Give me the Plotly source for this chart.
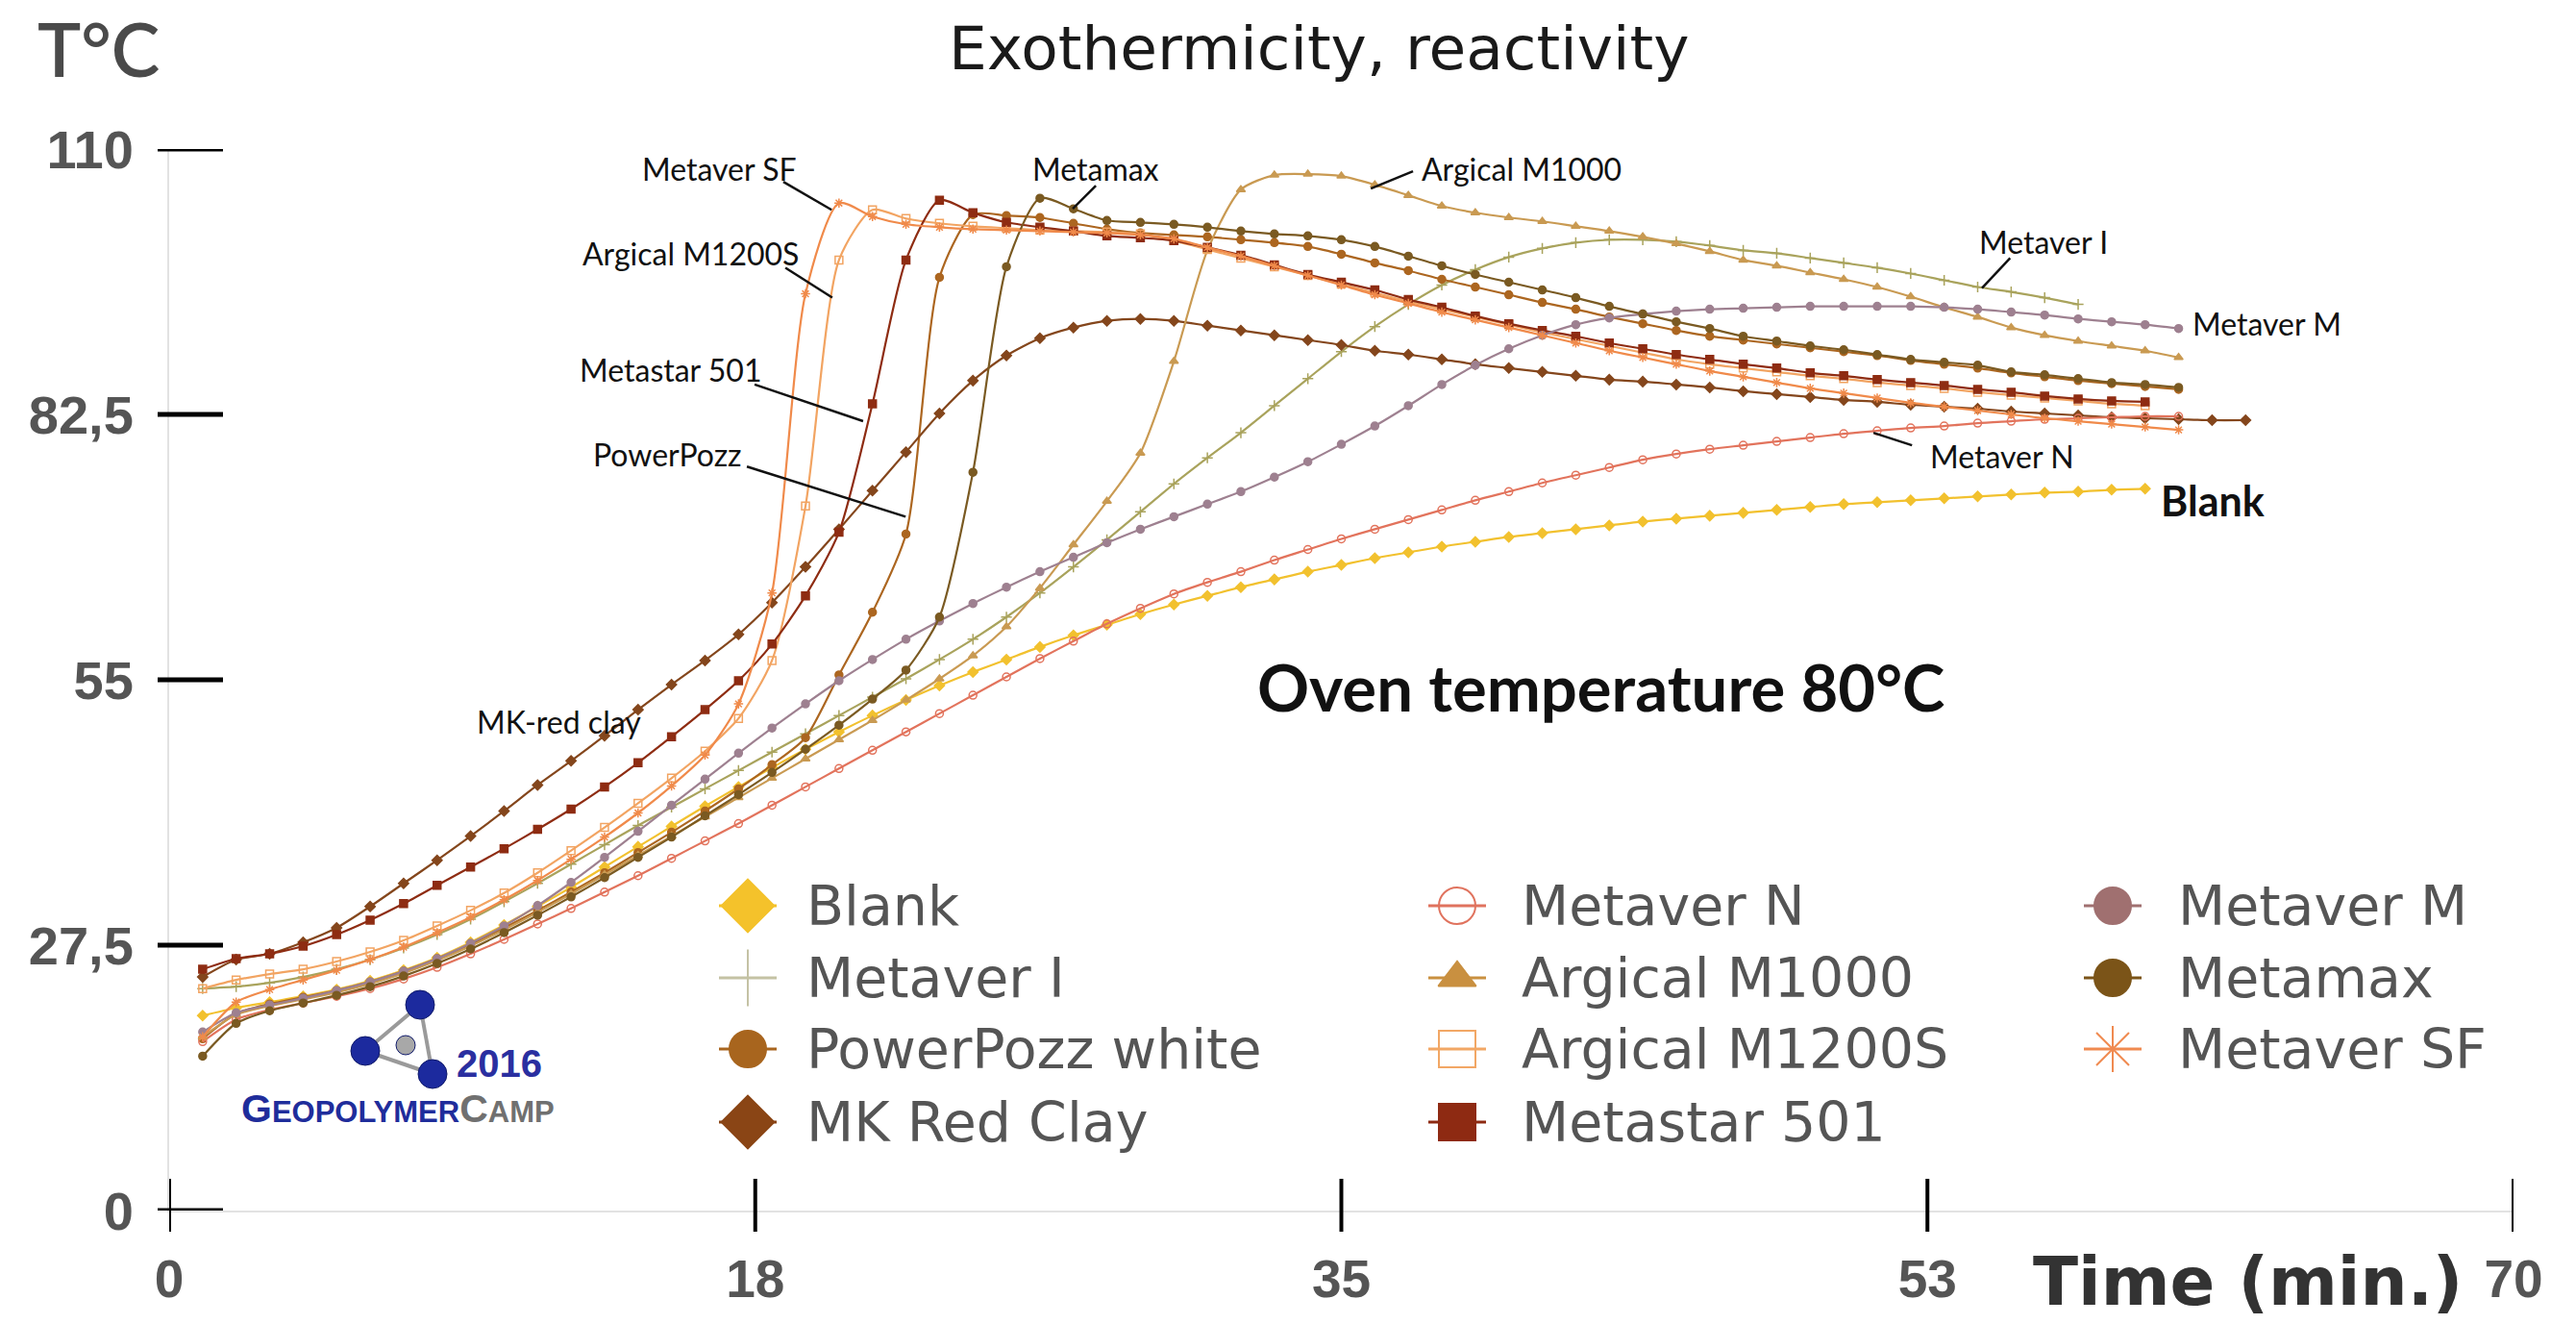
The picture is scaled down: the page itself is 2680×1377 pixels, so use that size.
import plotly.graph_objects as go

W, H = 2680, 1377

# ---------------- data ----------------
minutes = [1, 2, 3, 4, 5, 6, 7, 8, 9, 10, 11, 12, 13, 14, 15, 16, 17, 18, 19, 20,
           21, 22, 23, 24, 25, 26, 27, 28, 29, 30, 31, 32, 33, 34, 35, 36, 37, 38, 39, 40,
           41, 42, 43, 44, 45, 46, 47, 48, 49, 50, 51, 52, 53, 54, 55, 56, 57, 58, 59, 60,
           61, 62]

blank = [20.2, 21.0, 21.6, 22.2, 22.9, 23.8, 24.9, 26.2, 27.8, 29.6, 31.5, 33.5, 35.6, 37.7, 39.8,
         41.9, 43.9, 45.9, 47.8, 49.6, 51.3, 52.9, 54.4, 55.8, 57.1, 58.4, 59.6, 60.7, 61.8, 62.8,
         63.7, 64.6, 65.4, 66.2, 66.9, 67.6, 68.2, 68.8, 69.3, 69.8, 70.2, 70.6, 71.0, 71.4, 71.7,
         72.0, 72.3, 72.6, 72.9, 73.2, 73.4, 73.6, 73.8, 74.0, 74.2, 74.4, 74.5, 74.7, 74.8]

metaver_n = [17.5, 19.8, 20.8, 21.5, 22.2, 23.0, 24.0, 25.2, 26.6, 28.1, 29.7, 31.3, 33.0, 34.7, 36.5,
             38.3, 40.1, 42.0, 43.9, 45.8, 47.7, 49.6, 51.5, 53.4, 55.3, 57.2, 59.0, 60.8, 62.4, 63.9,
             65.1, 66.2, 67.4, 68.5, 69.6, 70.6, 71.6, 72.6, 73.6, 74.5, 75.4, 76.2, 77.0, 77.8, 78.4,
             78.9, 79.3, 79.7, 80.1, 80.5, 80.8, 81.1, 81.3, 81.6, 81.8, 82.0, 82.1, 82.2, 82.3, 82.3]

metaver_m = [18.5, 20.5, 21.3, 22.0, 22.8, 23.7, 24.8, 26.1, 27.7, 29.5, 31.6, 34.0, 36.6, 39.3, 42.0,
             44.7, 47.4, 50.0, 52.5, 54.9, 57.1, 59.2, 61.1, 62.9, 64.6, 66.2, 67.7, 69.2, 70.6, 71.9,
             73.2, 74.5, 76.0, 77.6, 79.4, 81.3, 83.4, 85.6, 87.6, 89.3, 90.7, 91.8, 92.5, 92.9, 93.2,
             93.4, 93.5, 93.6, 93.7, 93.7, 93.7, 93.7, 93.6, 93.4, 93.1, 92.8, 92.4, 92.1, 91.8, 91.4]

metaver_i = [23.0, 23.2, 23.6, 24.2, 25.0, 26.0, 27.2, 28.6, 30.2, 32.0, 33.9, 35.9, 37.9, 39.9, 41.8,
             43.7, 45.6, 47.5, 49.4, 51.3, 53.2, 55.1, 57.1, 59.2, 61.5, 64.0, 66.7, 69.5, 72.4, 75.3,
             78.0, 80.6, 83.4, 86.2, 89.0, 91.6, 93.9, 95.9, 97.5, 98.8, 99.7, 100.3, 100.6, 100.6, 100.4,
             100.0, 99.5, 99.2, 98.7, 98.2, 97.7, 97.1, 96.4, 95.7, 95.2, 94.6, 93.9]

argical_m1000 = [18.0, 20.3, 21.2, 21.9, 22.6, 23.5, 24.6, 25.9, 27.4, 29.1, 30.9, 32.8, 34.8, 36.8, 38.8,
                 40.8, 42.8, 44.8, 46.8, 48.8, 50.8, 52.9, 55.1, 57.5, 60.5, 64.5, 69.0, 73.5, 78.5, 88.0,
                 99.5, 105.8, 107.3, 107.4, 107.2, 106.3, 105.2, 104.1, 103.4, 102.9, 102.5, 102.0, 101.5, 100.9, 100.2,
                 99.4, 98.5, 97.9, 97.2, 96.5, 95.7, 94.7, 93.6, 92.6, 91.5, 90.7, 90.1, 89.6, 89.1, 88.4]

powerpozz = [17.8, 20.4, 21.4, 22.1, 22.8, 23.7, 24.8, 26.1, 27.6, 29.3, 31.1, 33.0, 35.0, 37.1, 39.2,
             41.4, 43.7, 46.2, 49.0, 55.5, 62.0, 70.1, 96.7, 103.2, 103.1, 102.9, 102.3, 101.7, 101.3, 101.1,
             100.9, 100.6, 100.3, 99.9, 99.1, 98.2, 97.4, 96.5, 95.7, 94.9, 94.1, 93.4, 92.6, 91.9, 91.2,
             90.6, 90.2, 89.8, 89.4, 89.0, 88.6, 88.1, 87.7, 87.3, 86.8, 86.4, 86.0, 85.7, 85.4, 85.1]

metamax = [16.0, 19.4, 20.7, 21.5, 22.3, 23.2, 24.3, 25.6, 27.1, 28.8, 30.6, 32.5, 34.5, 36.6, 38.7,
           40.9, 43.1, 45.4, 47.8, 50.3, 53.0, 56.0, 61.5, 76.5, 97.8, 104.9, 103.8, 102.6, 102.4, 102.2,
           101.9, 101.5, 101.2, 101.0, 100.6, 99.9, 98.9, 97.9, 97.0, 96.2, 95.4, 94.6, 93.7, 92.9, 92.1,
           91.4, 90.6, 90.1, 89.6, 89.2, 88.7, 88.2, 87.9, 87.6, 86.9, 86.6, 86.2, 85.8, 85.6, 85.3]

mk_red_clay = [24.2, 26.0, 26.6, 27.8, 29.3, 31.5, 33.9, 36.3, 38.8, 41.4, 44.1, 46.6, 49.2, 51.9, 54.5,
               57.0, 59.7, 63.0, 66.7, 70.6, 74.6, 78.6, 82.6, 86.0, 88.6, 90.4, 91.5, 92.2, 92.4, 92.2,
               91.7, 91.2, 90.7, 90.2, 89.7, 89.1, 88.7, 88.2, 87.7, 87.3, 86.9, 86.5, 86.1, 85.9, 85.6,
               85.3, 84.9, 84.6, 84.3, 84.0, 83.8, 83.5, 83.3, 83.1, 82.8, 82.6, 82.4, 82.2, 82.1, 82.0,
               81.9, 81.9]

argical_m1200s = [23.0, 23.9, 24.5, 25.0, 25.8, 26.8, 28.0, 29.5, 31.1, 32.9, 35.0, 37.3, 39.7, 42.2, 44.8,
                  47.6, 51.0, 57.0, 73.0, 98.5, 103.7, 102.8, 102.3, 102.0, 101.8, 101.6, 101.5, 101.4, 101.2, 100.5,
                  99.6, 98.7, 97.8, 96.9, 96.0, 95.1, 94.2, 93.4, 92.6, 91.8, 91.0, 90.3, 89.6, 88.9, 88.2,
                  87.7, 87.3, 86.9, 86.5, 86.2, 85.8, 85.5, 85.2, 84.8, 84.5, 84.2, 83.9, 83.6, 83.4]

metastar_501 = [25.0, 26.1, 26.6, 27.4, 28.6, 30.1, 31.8, 33.7, 35.6, 37.5, 39.5, 41.6, 43.9, 46.4, 49.1,
                51.9, 54.9, 58.7, 63.7, 70.3, 83.6, 98.5, 104.7, 103.4, 102.4, 101.9, 101.5, 101.0, 100.8, 100.5,
                99.8, 99.0, 98.0, 97.0, 96.2, 95.4, 94.4, 93.6, 92.7, 91.9, 91.2, 90.6, 89.9, 89.3, 88.7,
                88.2, 87.7, 87.3, 86.8, 86.5, 86.1, 85.8, 85.5, 85.1, 84.8, 84.4, 84.1, 83.9, 83.8]

metaver_sf = [18.0, 21.6, 22.9, 23.9, 24.9, 26.0, 27.3, 28.8, 30.4, 32.2, 34.2, 36.4, 38.7, 41.2, 44.0,
              47.2, 52.5, 64.0, 95.0, 104.4, 103.0, 102.2, 101.9, 101.7, 101.6, 101.5, 101.4, 101.3, 101.1, 100.7,
              99.8, 98.9, 97.9, 96.9, 95.9, 94.9, 94.0, 93.1, 92.3, 91.5, 90.7, 89.9, 89.1, 88.4, 87.7,
              87.0, 86.4, 85.8, 85.2, 84.7, 84.2, 83.7, 83.3, 82.9, 82.5, 82.1, 81.8, 81.5, 81.2, 80.9]

x_tick_vals = [0, 17.5, 35, 52.5, 70]
x_tick_text = ["0", "18", "35", "53", "70"]
y_tick_vals = [0, 27.5, 55, 82.5, 110]
y_tick_text = ["0", "27,5", "55", "82,5", "110"]

# series styles (legend order, column-major)
series = [
    ("Blank", blank, "#F2C12E", "diamond"),
    ("Metaver I", metaver_i, "#A9A35C", "cross-thin-open"),
    ("PowerPozz white", powerpozz, "#AC6620", "circle"),
    ("MK Red Clay", mk_red_clay, "#84461C", "diamond"),
    ("Metaver N", metaver_n, "#E2735C", "circle-open"),
    ("Argical M1000", argical_m1000, "#C99A52", "triangle-up"),
    ("Argical M1200S", argical_m1200s, "#F2A462", "square-open"),
    ("Metastar 501", metastar_501, "#8E2C12", "square"),
    ("Metaver M", metaver_m, "#9E8090", "circle"),
    ("Metamax", metamax, "#7A5A22", "circle"),
    ("Metaver SF", metaver_sf, "#F08A4A", "asterisk-open"),
]
legend_colors = {
    "Blank": "#F4C22B", "Metaver I": "#C4C2A4", "PowerPozz white": "#A8651E",
    "MK Red Clay": "#8A4515", "Metaver N": "#E0735E", "Argical M1000": "#C99040",
    "Argical M1200S": "#F2A765", "Metastar 501": "#8E2A12", "Metaver M": "#A07070",
    "Metamax": "#7B5418", "Metaver SF": "#F08A50",
}
legend_sizes = {"diamond": 42, "cross-thin-open": 42, "circle": 38, "circle-open": 38,
                "triangle-up": 34, "square-open": 38, "square": 38, "asterisk-open": 40}

# curve labels: text, (t, T) position, leader (t0, T0, t1, T1) or None
curve_labels = [
    ("Metaver SF", 16.42, 108.0, (18.34, 106.6, 19.78, 103.7)),
    ("Argical M1200S", 15.56, 99.2, (18.40, 97.7, 19.80, 94.6)),
    ("Metastar 501", 14.98, 87.1, (17.48, 85.6, 20.72, 81.8)),
    ("PowerPozz", 14.87, 78.4, (17.25, 77.1, 21.99, 71.9)),
    ("MK-red clay", 11.65, 50.7, None),
    ("Metamax", 27.67, 108.0, (27.67, 106.2, 26.98, 103.8)),
    ("Argical M1000", 40.38, 108.0, (37.14, 107.7, 35.88, 105.9)),
    ("Metaver I", 55.97, 100.4, (54.97, 98.7, 54.13, 95.6)),
    ("Metaver M", 62.63, 91.9, None),
    ("Metaver N", 54.74, 78.2, (52.04, 79.3, 50.89, 80.6)),
]


def px(X, Y):
    return X / W, 1 - Y / H


fig = go.Figure()

for name, vals, color, sym in series:
    fig.add_trace(go.Scatter(
        x=minutes[:len(vals)], y=vals, name=name, mode="lines+markers",
        line=dict(color=color, width=2.2, shape="spline", smoothing=0.7),
        marker=dict(symbol=sym, size=8, color=color, opacity=1, line=dict(color=color, width=1.5)),
        showlegend=False, xaxis="x", yaxis="y", cliponaxis=False,
    ))

# ---- custom large-symbol legend (3 columns) ----
col_marker_x = [778, 1516, 2198]
col_text_x = [837, 1581, 2264]
row_y = [942, 1017, 1091, 1167]
annotations = []
for i, (name, vals, color, sym) in enumerate(series):
    col, row = divmod(i, 4)
    mx, my = col_marker_x[col], row_y[row]
    lc = legend_colors[name]
    fig.add_trace(go.Scatter(
        x=[mx - 30, mx, mx + 30], y=[my, my, my], mode="lines+markers",
        line=dict(color=lc, width=3),
        marker=dict(symbol=sym, size=[0, legend_sizes[sym], 0], color=lc, opacity=1,
                    line=dict(color=lc, width=2)),
        xaxis="x2", yaxis="y2", showlegend=False, hoverinfo="skip", name=name,
    ))
    tx, ty = px(col_text_x[col], my)
    annotations.append(dict(xref="paper", yref="paper", x=tx, y=ty, xanchor="left",
                            yanchor="middle", text=name, showarrow=False,
                            font=dict(family="DejaVu Sans", size=57, color="#555555")))

shapes = []
# crossing tick marks
for v in y_tick_vals:
    shapes.append(dict(type="line", xref="paper", yref="y", x0=164 / W, x1=232 / W,
                       y0=v, y1=v, line=dict(color="black", width=5)))
for v in x_tick_vals:
    shapes.append(dict(type="line", xref="x", yref="paper", x0=v, x1=v,
                       y0=1 - 1281 / H, y1=1 - 1226 / H, line=dict(color="black", width=4)))

# curve labels + leader lines
for text, lx, ly, lead in curve_labels:
    annotations.append(dict(xref="x", yref="y", x=lx, y=ly, text=text, showarrow=False,
                            xanchor="center", yanchor="middle",
                            font=dict(family="Lato", size=32, color="#111111")))
    if lead:
        shapes.append(dict(type="line", xref="x", yref="y", x0=lead[0], y0=lead[1],
                           x1=lead[2], y1=lead[3], line=dict(color="#111111", width=2.5)))
annotations.append(dict(xref="x", yref="y", x=61.02, y=73.6, text="<b>Blank</b>", showarrow=False,
                        xanchor="center", yanchor="middle",
                        font=dict(family="Lato", size=43, color="#111111")))
annotations.append(dict(xref="x", yref="y", x=42.74, y=54.3, text="<b>Oven temperature 80°C</b>",
                        showarrow=False, xanchor="center", yanchor="middle",
                        font=dict(family="Lato", size=67, color="#111111")))

# title, axis captions
tx, ty = px(1372, 51)
annotations.append(dict(xref="paper", yref="paper", x=tx, y=ty, text="Exothermicity, reactivity",
                        showarrow=False, xanchor="center", yanchor="middle",
                        font=dict(family="DejaVu Sans", size=63, color="#1a1a1a")))
tx, ty = px(102, 50)
annotations.append(dict(xref="paper", yref="paper", x=tx, y=ty, text="T°C", showarrow=False,
                        xanchor="center", yanchor="middle",
                        font=dict(family="Lato", size=76, color="#4a4a4a", weight=600)))
tx, ty = px(2338, 1333)
annotations.append(dict(xref="paper", yref="paper", x=tx, y=ty, text="<b>Time (min.)</b>",
                        showarrow=False, xanchor="center", yanchor="middle",
                        font=dict(family="DejaVu Sans", size=69, color="#333333")))

# GeopolymerCamp logo
for (a, b) in [((437, 1045), (380, 1093)), ((437, 1045), (450, 1117)), ((380, 1093), (450, 1117))]:
    x0, y0 = px(*a)
    x1, y1 = px(*b)
    shapes.append(dict(type="line", xref="paper", yref="paper", x0=x0, y0=y0, x1=x1, y1=y1,
                       line=dict(color="#9a9a9a", width=4)))
for (cx, cy, r, fill) in [(422, 1087, 10, "#a8a8a8"), (437, 1045, 15, "#1c2a9e"),
                          (380, 1093, 15, "#1c2a9e"), (450, 1117, 15, "#1c2a9e")]:
    x0, y0 = px(cx - r, cy + r)
    x1, y1 = px(cx + r, cy - r)
    shapes.append(dict(type="circle", xref="paper", yref="paper", x0=x0, y0=y0, x1=x1, y1=y1,
                       fillcolor=fill, line=dict(color="#101a6a", width=1)))
tx, ty = px(519, 1106)
annotations.append(dict(xref="paper", yref="paper", x=tx, y=ty, text="<b>2016</b>", showarrow=False,
                        xanchor="center", yanchor="middle",
                        font=dict(family="Liberation Sans", size=40, color="#2a2fa0")))
tx, ty = px(414, 1153)
annotations.append(dict(
    xref="paper", yref="paper", x=tx, y=ty, showarrow=False, xanchor="center", yanchor="middle",
    text=("<b><span style='color:#1f2d9b'>G<span style='font-size:31px'>EOPOLYMER</span></span>"
          "<span style='color:#707070'>C<span style='font-size:31px'>AMP</span></span></b>"),
    font=dict(family="Liberation Sans", size=41, color="#1f2d9b")))

fig.update_layout(
    width=W, height=H, margin=dict(l=0, r=0, t=0, b=0, autoexpand=False),
    paper_bgcolor="white", plot_bgcolor="rgba(0,0,0,0)",
    xaxis=dict(domain=[176 / W, 2615 / W], range=[0, 70], tickvals=x_tick_vals, ticktext=x_tick_text,
               ticks="", showgrid=False, zeroline=False, showline=True, linecolor="#e2e2e2", linewidth=2,
               tickfont=dict(family="Liberation Sans", size=55, color="#555555", weight="bold"),
               ticklabelstandoff=22, automargin=False),
    yaxis=dict(domain=[1 - 1259 / H, 1 - 155 / H], range=[0, 110], tickvals=y_tick_vals,
               ticktext=y_tick_text, ticks="", showgrid=False, zeroline=False, showline=True,
               linecolor="#e2e2e2", linewidth=2,
               tickfont=dict(family="Liberation Sans", size=56, color="#555555", weight="bold"),
               ticklabelstandoff=24, automargin=False),
    xaxis2=dict(domain=[0, 1], range=[0, W], visible=False, anchor="y2", fixedrange=True),
    yaxis2=dict(domain=[0, 1], range=[H, 0], visible=False, anchor="x2", fixedrange=True),
    shapes=shapes, annotations=annotations, showlegend=False,
)

fig.write_html("out.html")
